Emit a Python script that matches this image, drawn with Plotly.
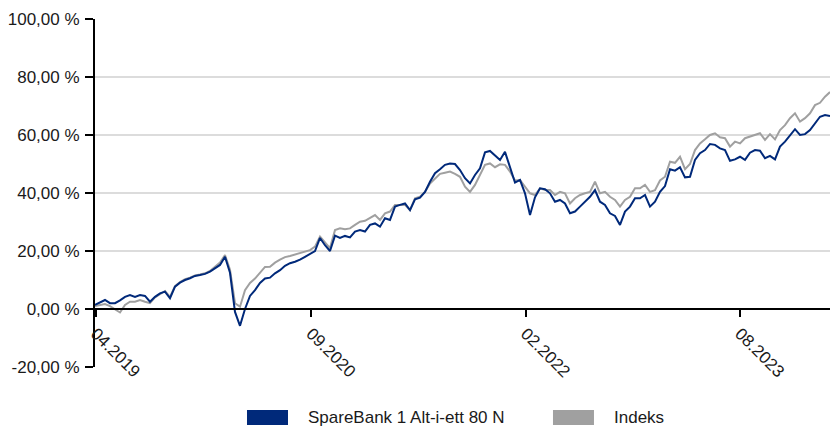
import pandas as pd
import plotly.graph_objects as go

# ---------------- data ----------------
start_date = "2019-04-01"
step = "12D"

fund_name = "SpareBank 1 Alt-i-ett 80 N"
index_name = "Indeks"

fund = [1.4, 2.2, 3.1, 2.0, 2.0, 3.0, 4.2, 4.8, 4.2, 4.8,
        4.5, 2.5, 4.2, 5.4, 6.0, 3.7, 7.7, 9.1, 10.0, 10.6,
        11.4, 11.7, 12.1, 12.9, 14.0, 15.2, 18.0, 12.5, -1.0, -5.8,
        0.0, 4.5, 6.5, 9.0, 10.5, 10.8, 12.3, 13.4, 14.9, 15.8,
        16.3, 17.0, 18.0, 19.0, 20.0, 24.5, 22.0, 20.0, 25.3, 24.5,
        25.2, 24.7, 26.7, 27.2, 26.7, 29.0, 29.5, 28.4, 31.3, 30.7,
        35.3, 35.9, 36.4, 34.1, 37.8, 38.4, 40.4, 43.9, 46.8, 48.2,
        49.7, 50.2, 50.0, 47.9, 45.1, 43.3, 46.2, 48.5, 54.0, 54.5,
        53.1, 51.4, 54.2, 49.1, 43.6, 44.5, 39.9, 32.4, 38.5, 41.6,
        41.3, 39.9, 37.0, 37.6, 36.4, 33.0, 33.6, 35.3, 37.0, 38.7,
        41.0, 37.0, 35.9, 33.0, 32.1, 29.0, 33.6, 35.3, 38.2, 38.2,
        39.3, 35.3, 37.0, 40.4, 42.4, 48.2, 47.7, 48.9, 45.4, 45.6,
        51.4, 53.7, 54.8, 56.9, 56.6, 55.4, 54.8, 51.1, 51.6, 52.5,
        51.4, 53.9, 54.8, 54.6, 52.0, 52.8, 51.6, 56.0, 57.7, 60.0,
        62.0, 60.0, 60.3, 61.7, 64.0, 66.3, 66.9, 66.5]

index = [1.0, 1.4, 1.7, 1.0, 0.0, -1.2, 1.4, 2.5, 2.5, 3.1,
         2.5, 2.0, 4.0, 5.2, 6.2, 4.2, 7.9, 9.3, 10.3, 10.8,
         11.6, 11.9, 12.3, 13.1, 14.6, 16.0, 18.6, 13.5, 2.0, 0.8,
         6.5, 9.0, 10.5, 12.5, 14.5, 14.6, 16.0, 17.0, 17.9, 18.3,
         18.8, 19.2, 19.8, 20.3, 21.5, 25.0, 23.0, 21.0, 27.2, 27.8,
         27.5, 27.8, 29.0, 30.1, 30.4, 31.3, 32.4, 30.7, 33.0, 33.6,
         35.9, 35.9, 35.9, 34.1, 38.2, 38.7, 40.4, 43.3, 45.1, 46.6,
         47.0, 47.4, 46.6, 45.6, 42.2, 40.4, 42.8, 46.2, 49.7, 50.2,
         48.9, 49.9, 49.7, 47.4, 44.3, 44.5, 42.2, 39.9, 39.3, 41.6,
         41.0, 41.0, 39.3, 40.4, 39.9, 36.4, 38.2, 39.3, 39.9, 40.4,
         43.9, 39.9, 40.4, 38.7, 37.6, 35.3, 37.6, 38.7, 41.6, 41.6,
         42.8, 40.4, 41.0, 44.3, 45.6, 50.8, 50.4, 52.5, 48.2, 50.0,
         54.8, 57.1, 58.5, 60.0, 60.6, 59.2, 58.9, 56.0, 57.7, 57.1,
         58.9, 59.4, 60.0, 60.6, 58.3, 60.3, 58.5, 61.7, 63.4, 65.8,
         67.5, 64.6, 65.8, 67.5, 70.3, 71.1, 73.2, 74.8]

x_tick_dates = ["2019-04-03", "2020-09-01", "2022-01-29", "2023-06-27"]
x_tick_labels = ["04.2019", "09.2020", "02.2022", "08.2023"]

y_tick_vals = [-20, 0, 20, 40, 60, 80, 100]
y_tick_labels = ["-20,00 %", "0,00 %", "20,00 %", "40,00 %", "60,00 %", "80,00 %", "100,00 %"]

# ---------------- figure ----------------
dates = pd.date_range(start_date, periods=len(fund), freq=step)

BLUE = "#00297A"
GREY = "#A0A0A0"
FONT = "Liberation Sans"
TXT = "#1a1a1a"

fig = go.Figure()
fig.add_trace(go.Scatter(x=dates, y=index, mode="lines", name=index_name,
                         line=dict(color=GREY, width=2), showlegend=False))
fig.add_trace(go.Scatter(x=dates, y=fund, mode="lines", name=fund_name,
                         line=dict(color=BLUE, width=2), showlegend=False))

fig.update_layout(
    width=830, height=428,
    margin=dict(l=95, r=0, t=19, b=61, autoexpand=False),
    paper_bgcolor="white", plot_bgcolor="white",
    font=dict(family=FONT, size=16, color=TXT),
    xaxis=dict(
        type="date",
        range=[dates[0], dates[-1]],
        tickvals=x_tick_dates, ticktext=x_tick_labels,
        tickangle=45,
        showgrid=False, zeroline=False,
        showline=True, linecolor="black", linewidth=2,
        ticks="outside", ticklen=7, tickwidth=2, tickcolor="black",
        anchor="free", position=20 / 120,
        automargin=False,
        tickfont=dict(family=FONT, size=17, color=TXT),
    ),
    yaxis=dict(
        range=[-20, 100],
        tickvals=y_tick_vals, ticktext=y_tick_labels,
        showgrid=True, gridcolor="#DCDCDC", gridwidth=2,
        zeroline=False,
        showline=True, linecolor="black", linewidth=2,
        ticks="outside", ticklen=8, tickwidth=2, tickcolor="black",
        ticklabelstandoff=2,
        automargin=False,
        tickfont=dict(family=FONT, size=17, color=TXT),
    ),
)

# legend drawn below the plot as swatches + labels
legend_items = [(fund_name, BLUE, 0.2068), (index_name, GREY, 0.6231)]
sw_w = 41 / 735
y_top = -(410 - 367) / 348
y_bot = -(425 - 367) / 348
for name, col, x0 in legend_items:
    fig.add_shape(type="rect", xref="paper", yref="paper",
                  x0=x0, x1=x0 + sw_w, y0=y_bot, y1=y_top,
                  fillcolor=col, line=dict(width=0))
    fig.add_annotation(xref="paper", yref="paper", x=x0 + sw_w + 18 / 735,
                       y=-(417 - 367) / 348, text=name, showarrow=False,
                       xanchor="left", yanchor="middle",
                       font=dict(family=FONT, size=17, color=TXT))

# remove the default page margin so the 830x428 figure fills the window
fig.write_html(
    "out.html",
    config={"displayModeBar": False},
    post_script="document.body.style.margin='0';document.body.style.overflow='hidden';",
)
